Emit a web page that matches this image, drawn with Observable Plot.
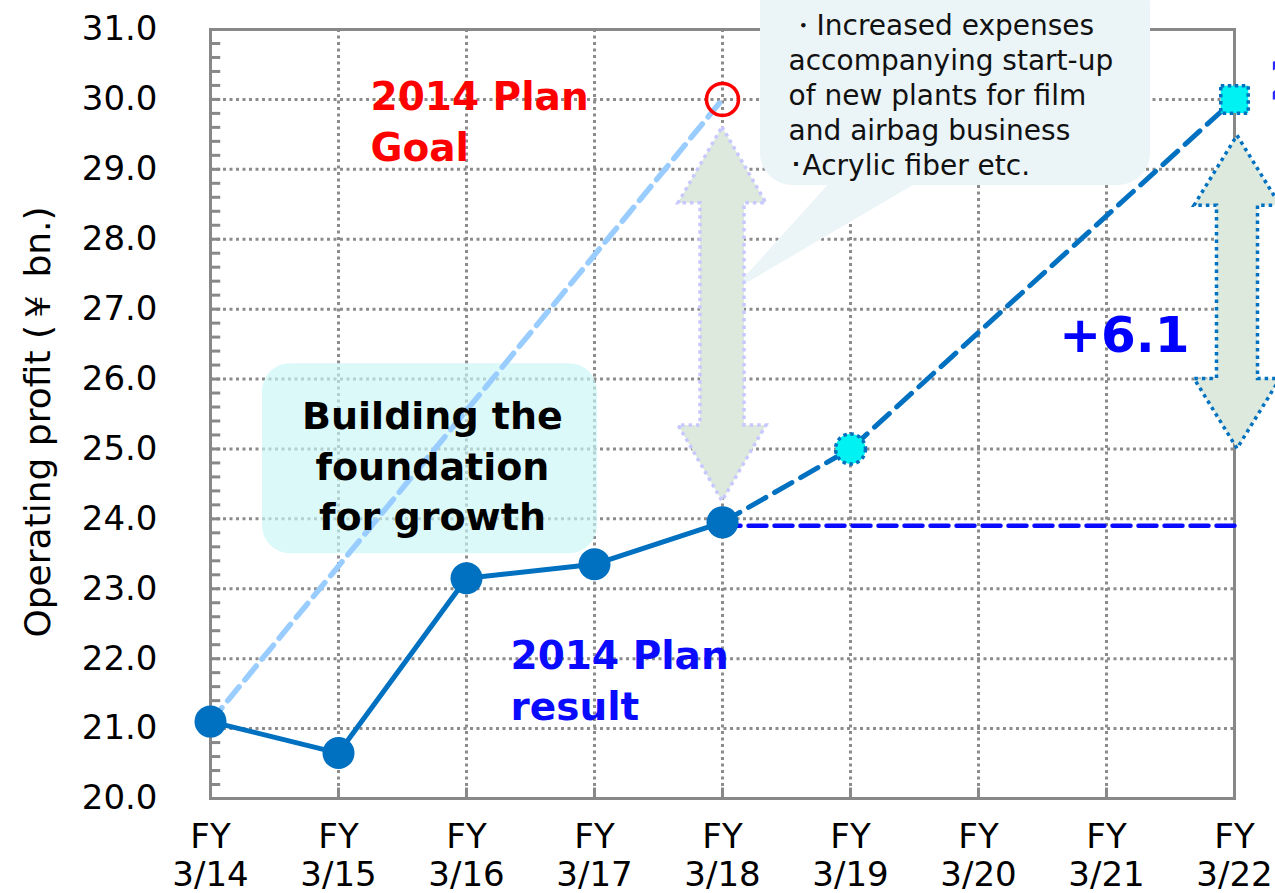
<!DOCTYPE html>
<html><head><meta charset="utf-8">
<script src="https://cdn.jsdelivr.net/npm/d3@7"></script>
<script src="https://cdn.jsdelivr.net/npm/@observablehq/plot@0.6"></script>
<style>html,body{margin:0;padding:0;background:#fff;overflow:hidden;width:1275px;height:893px}</style>
</head><body><div id="chart"></div>
<script>
// ---- data ----
const categories = ["FY\n3/14","FY\n3/15","FY\n3/16","FY\n3/17","FY\n3/18","FY\n3/19","FY\n3/20","FY\n3/21","FY\n3/22"];
const yTicks = [20,21,22,23,24,25,26,27,28,29,30,31];
const actualCats = ["FY\n3/14","FY\n3/15","FY\n3/16","FY\n3/17","FY\n3/18"];
const actualValues = [21.1, 20.65, 23.15, 23.35, 23.95];
const forecastCats = ["FY\n3/18","FY\n3/19","FY\n3/22"];
const forecastValues = [23.95, 25.0, 30.0];
const goalCats = ["FY\n3/14","FY\n3/18"];
const goalValues = [21.1, 30.0];
const resultCats = ["FY\n3/18","FY\n3/22"];
const resultValues = [23.9, 23.9];
const gapCats = ["FY\n3/18","FY\n3/22"];
const gapLow = [24.25, 25.0];
const gapHigh = [29.6, 29.48];
const gapLabel = "+6.1";
const yLabel = "Operating profit (￥ bn.)";
const calloutText = "・Increased expenses\naccompanying start-up\nof new plants for film\nand airbag business\n･Acrylic fiber etc.";

const idx = c => categories.indexOf(c);
const pts = (cats, vals) => cats.map((c, i) => ({x: idx(c), y: vals[i]}));
const minorTicks = d3.range(100, 156).map(v => v / 5);

function polygonMark(points, attrs) {
  return (index, {x, y}) => {
    const p = d3.create("svg:path")
      .attr("d", "M" + points.map(q => x(q[0]) + "," + y(q[1])).join("L") + "Z");
    for (const k in attrs) p.attr(k, attrs[k]);
    return p.node();
  };
}
function doubleArrow(cat, lo, hi, geom, attrs) {
  return (index, {x, y}) => {
    const X = x(idx(cat)) + (geom.dx || 0), yt = y(hi), yb = y(lo);
    const h = geom.head / 2, s = geom.shaft / 2, L = geom.headLen;
    const d = `M${X},${yt}L${X+h},${yt+L}L${X+s},${yt+L}L${X+s},${yb-L}L${X+h},${yb-L}L${X},${yb}` +
              `L${X-h},${yb-L}L${X-s},${yb-L}L${X-s},${yt+L}L${X-h},${yt+L}Z`;
    const p = d3.create("svg:path").attr("d", d);
    for (const k in attrs) p.attr(k, attrs[k]);
    return p.node();
  };
}

const dotted = {stroke: "#8c8c8c", strokeWidth: 3, strokeDasharray: "3,3.5"};

const chart = Plot.plot({
  width: 1275, height: 893,
  marginLeft: 210, marginRight: 41, marginTop: 29, marginBottom: 95,
  x: {domain: [0, 8], axis: null},
  y: {domain: [20, 31], axis: null},
  style: {fontFamily: "DejaVu Sans", fontSize: "34px", color: "#000", background: "white", overflow: "hidden"},
  marks: [
    // grid
    Plot.ruleY(yTicks, {y: d => d, ...dotted}),
    Plot.ruleX(categories, {x: d => idx(d), ...dotted}),
    Plot.frame({stroke: "#888", strokeWidth: 3}),
    // minor ticks (inward)
    Plot.ruleY(minorTicks, {y: d => d, x1: 0, x2: 0.08, stroke: "#888", strokeWidth: 3}),
    Plot.ruleX(categories, {x: d => idx(d), y1: 20, y2: 20.15, stroke: "#888", strokeWidth: 3}),
    // "Building the foundation" box
    Plot.rect([0], {x1: 0.406, x2: 3.023, y1: 23.50, y2: 26.22, rx: 28, fill: "#c9f6f6", fillOpacity: 0.65}),
    // callout
    Plot.rect([0], {x1: 4.297, x2: 7.344, y1: 28.77, y2: 31.8, rx: 32, fill: "#ebf4f6"}),
    polygonMark([[4.84, 28.80], [5.52, 28.80], [4.07, 27.24]], {fill: "#ebf4f6"}),
    // lines
    Plot.line(pts(goalCats, goalValues), {x: "x", y: "y", stroke: "#99ccff", strokeWidth: 5.5, strokeDasharray: "18,9"}),
    Plot.line(pts(actualCats, actualValues), {x: "x", y: "y", stroke: "#0070c0", strokeWidth: 5}),
    Plot.line(pts(resultCats, resultValues), {x: "x", y: "y", stroke: "#0a0aff", strokeWidth: 4.5, strokeDasharray: "18,8"}),
    Plot.line(pts(forecastCats, forecastValues), {x: "x", y: "y", stroke: "#0070c0", strokeWidth: 5, strokeDasharray: "20,10"}),
    // gap arrows
    doubleArrow(gapCats[0], gapLow[0], gapHigh[0], {head: 88, shaft: 44, headLen: 76},
      {fill: "#dce9dc", stroke: "#c8c8ff", "stroke-width": 3.5, "stroke-dasharray": "3.5,4"}),
    doubleArrow(gapCats[1], gapLow[1], gapHigh[1], {head: 86, shaft: 41, headLen: 70, dx: 3},
      {fill: "#dce9dc", stroke: "#0070c0", "stroke-width": 3.5, "stroke-dasharray": "3.5,4"}),
    // points
    Plot.dot(pts(actualCats, actualValues), {x: "x", y: "y", r: 16, fill: "#0070c0"}),
    Plot.dot(pts(["FY\n3/18"], [goalValues[1]]), {x: "x", y: "y", r: 16, stroke: "#ff0000", strokeWidth: 3.5, fill: "none"}),
    Plot.dot(pts(["FY\n3/19"], [forecastValues[1]]), {x: "x", y: "y", r: 15, fill: "#00f2f2", stroke: "#0070c0", strokeWidth: 3.5, strokeDasharray: "3.5,3.5"}),
    Plot.dot(pts(["FY\n3/22"], [forecastValues[2]]), {x: "x", y: "y", r: 15.5, symbol: "square", fill: "#00f2f2", stroke: "#0070c0", strokeWidth: 3.5, strokeDasharray: "3.5,3.5"}),
    // annotations
    Plot.text(["2014 Plan\nGoal"], {x: () => 1.25, y: () => 29.715, text: d => d, textAnchor: "start", lineAnchor: "middle", fontSize: 39, fontWeight: "bold", fill: "#ff0000", lineHeight: 1.31}),
    Plot.text(["2014 Plan\nresult"], {x: () => 2.344, y: () => 21.72, text: d => d, textAnchor: "start", lineAnchor: "middle", fontSize: 39, fontWeight: "bold", fill: "#0a0aff", lineHeight: 1.31}),
    Plot.text(["Building the\nfoundation\nfor growth"], {x: () => 1.734, y: () => 24.795, text: d => d, textAnchor: "middle", lineAnchor: "middle", fontSize: 38, fontWeight: "bold", fill: "#000", lineHeight: 1.34}),
    Plot.text([calloutText], {x: () => 4.516, y: () => 30.08, text: d => d, textAnchor: "start", lineAnchor: "middle", fontSize: 28, fill: "#111", lineHeight: 1.25}),
    Plot.text([gapLabel], {x: () => 7.14, y: () => 26.615, text: d => d, textAnchor: "middle", lineAnchor: "middle", fontSize: 50, fontWeight: "bold", fill: "#0000ff"}),
    Plot.text(["2022 Plan"], {x: () => 8, y: () => 30.26, dx: 34, text: d => d, textAnchor: "start", lineAnchor: "middle", fontSize: 54, fontWeight: "bold", fill: "#2a2aff"}),
    // axes
    Plot.axisY(yTicks, {label: null, tickSize: 0, tickPadding: 53, tickFormat: d3.format(".1f"), fontSize: 34}),
    Plot.axisX(categories.map(idx), {label: null, tickSize: 0, tickPadding: 22, tickFormat: i => categories[i], fontSize: 34, lineHeight: 1.12}),
    Plot.text([yLabel], {frameAnchor: "left", dx: -172, dy: 8, rotate: -90, text: d => d, fontSize: 36, textAnchor: "middle", lineAnchor: "middle"})
  ]
});
document.getElementById("chart").appendChild(chart);
</script>
</body></html>
